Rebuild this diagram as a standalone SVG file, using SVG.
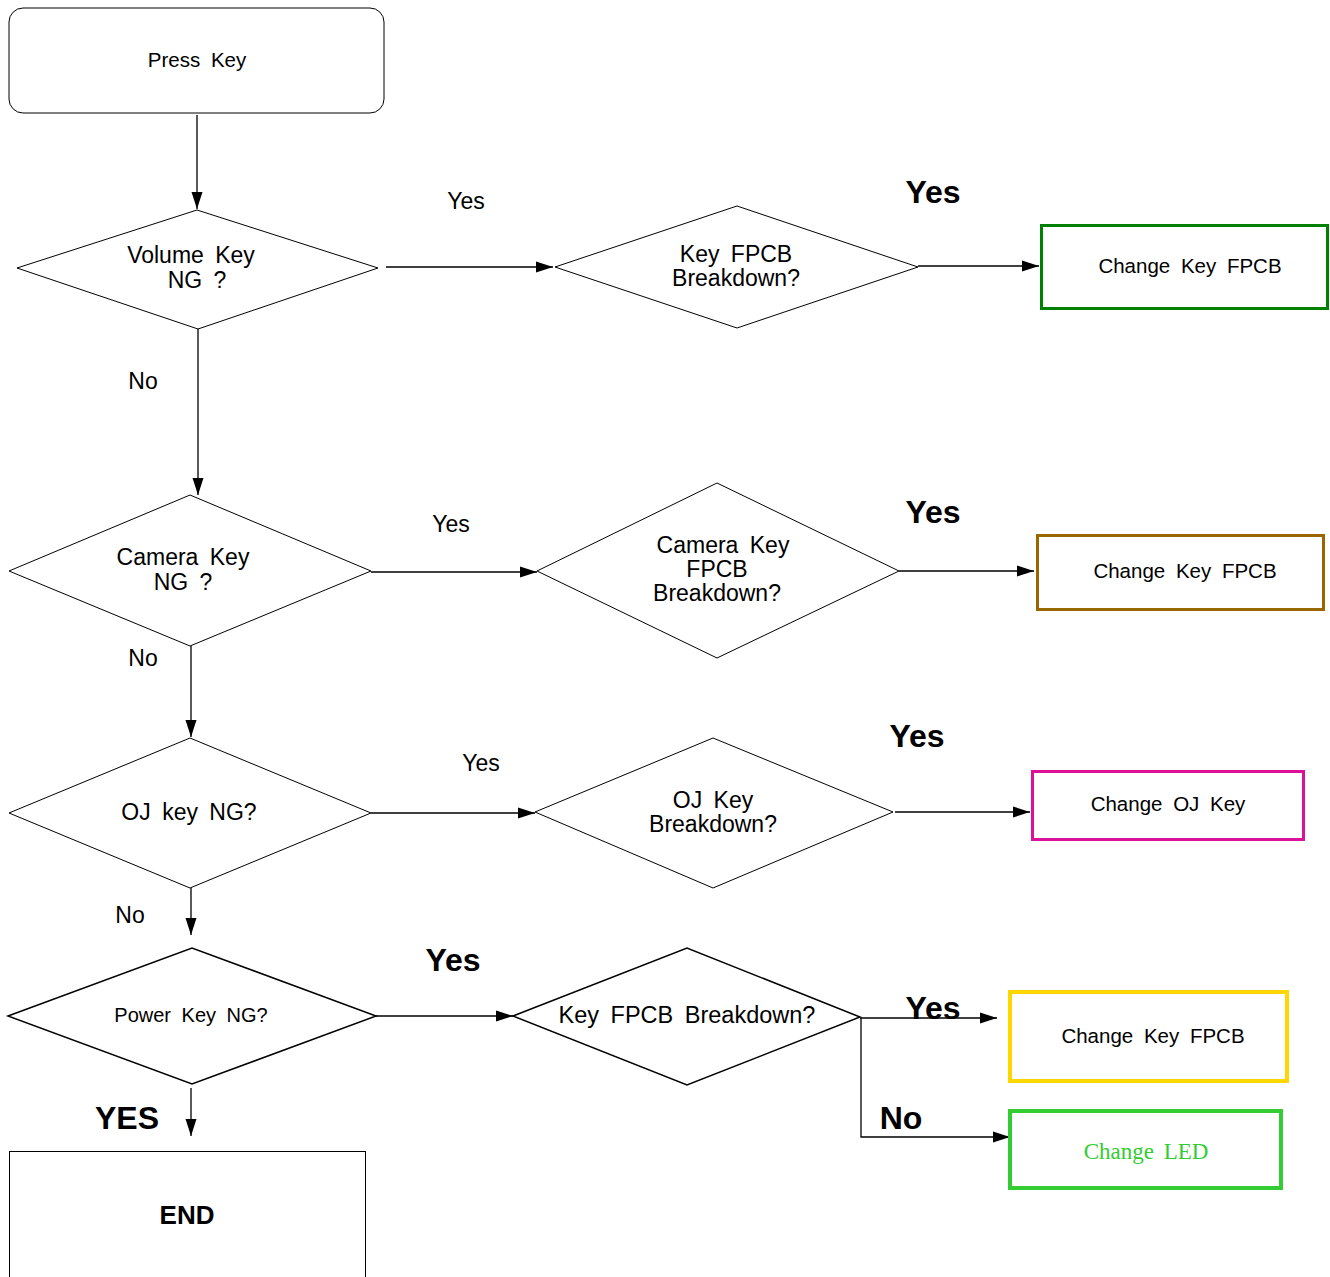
<svg xmlns="http://www.w3.org/2000/svg" width="1330" height="1277" viewBox="0 0 1330 1277">
<style>
text{font-family:"Liberation Sans",Arial,sans-serif;fill:#000;text-anchor:middle;word-spacing:5px}
.shape{fill:#fff;stroke:#000;stroke-width:1}
.conn{fill:none;stroke:#000;stroke-width:1.3}
.t22{font-size:23px}
.t19{font-size:20.5px}
.lbl{font-size:23px}
.big{font-size:32px;font-weight:bold}
</style>
<defs>
<marker id="ah" markerUnits="userSpaceOnUse" markerWidth="18" markerHeight="12" refX="17" refY="6" orient="auto">
<path d="M0,0.5 L17,6 L0,11.5 z" fill="#000"/>
</marker>
</defs>
<rect width="1330" height="1277" fill="#fff"/>
<g id="connectors">
<line class="conn" x1="197" y1="115" x2="197" y2="209" marker-end="url(#ah)"/>
<line class="conn" x1="386" y1="267" x2="553" y2="267" marker-end="url(#ah)"/>
<line class="conn" x1="918" y1="266" x2="1039" y2="266" marker-end="url(#ah)"/>
<line class="conn" x1="198" y1="329" x2="198" y2="495" marker-end="url(#ah)"/>
<line class="conn" x1="371" y1="572" x2="537" y2="572" marker-end="url(#ah)"/>
<line class="conn" x1="899" y1="571" x2="1034" y2="571" marker-end="url(#ah)"/>
<line class="conn" x1="191" y1="646" x2="191" y2="737" marker-end="url(#ah)"/>
<line class="conn" x1="371" y1="813" x2="535" y2="813" marker-end="url(#ah)"/>
<line class="conn" x1="895" y1="812" x2="1030" y2="812" marker-end="url(#ah)"/>
<line class="conn" x1="191" y1="888" x2="191" y2="935" marker-end="url(#ah)"/>
<line class="conn" x1="376" y1="1016" x2="513" y2="1016" marker-end="url(#ah)"/>
<line class="conn" x1="860" y1="1018" x2="997" y2="1018" marker-end="url(#ah)"/>
<polyline class="conn" points="861,1018 861,1137 1010,1137" marker-end="url(#ah)"/>
<line class="conn" x1="191" y1="1088" x2="191" y2="1136" marker-end="url(#ah)"/>
<text class="lbl" x="466" y="209">Yes</text>
<text class="big" x="933" y="203">Yes</text>
<text class="lbl" x="143" y="389">No</text>
<text class="lbl" x="451" y="532">Yes</text>
<text class="big" x="933" y="523">Yes</text>
<text class="lbl" x="143" y="666">No</text>
<text class="lbl" x="481" y="771">Yes</text>
<text class="big" x="917" y="747">Yes</text>
<text class="lbl" x="130" y="923">No</text>
<text class="big" x="453" y="971">Yes</text>
<text class="big" x="933" y="1019">Yes</text>
<text class="big" x="901" y="1129">No</text>
<text class="big" x="127" y="1129">YES</text>
</g>
<g id="press-key">
<rect class="shape" x="9" y="8" width="375" height="105" rx="14"/>
<text class="t19" x="197" y="67">Press Key</text>
</g>
<g id="volume-key">
<polygon class="shape" points="17,268 197,210 378,268 198,329"/>
<text class="t22" x="191" y="263">Volume Key</text>
<text class="t22" x="197" y="288">NG ?</text>
</g>
<g id="key-fpcb-1">
<polygon class="shape" points="555,267 737,206 918,267 737,328"/>
<text class="t22" x="736" y="262">Key FPCB</text>
<text class="t22" x="736" y="286">Breakdown?</text>
</g>
<g id="change-key-fpcb-1">
<rect x="1041.5" y="225.5" width="286" height="83" fill="#fff" stroke="#008000" stroke-width="3"/>
<text class="t19" x="1190" y="273">Change Key FPCB</text>
</g>
<g id="camera-key">
<polygon class="shape" points="9,571 190,495 371,571 190,646"/>
<text class="t22" x="183" y="565">Camera Key</text>
<text class="t22" x="183" y="590">NG ?</text>
</g>
<g id="camera-fpcb">
<polygon class="shape" points="537,571 717,483 899,571 717,658"/>
<text class="t22" x="723" y="553">Camera Key</text>
<text class="t22" x="717" y="577">FPCB</text>
<text class="t22" x="717" y="601">Breakdown?</text>
</g>
<g id="change-key-fpcb-2">
<rect x="1037.5" y="535.5" width="286" height="74" fill="#fff" stroke="#996600" stroke-width="3"/>
<text class="t19" x="1185" y="578">Change Key FPCB</text>
</g>
<g id="oj-key">
<polygon class="shape" points="9,813 190,738 371,813 190,888"/>
<text class="t22" x="189" y="820">OJ key NG?</text>
</g>
<g id="oj-breakdown">
<polygon class="shape" points="535,812 713,738 893,812 713,888"/>
<text class="t22" x="713" y="808">OJ Key</text>
<text class="t22" x="713" y="832">Breakdown?</text>
</g>
<g id="change-oj-key">
<rect x="1032.5" y="771.5" width="271" height="68" fill="#fff" stroke="#dd1199" stroke-width="3"/>
<text class="t19" x="1168" y="811">Change OJ Key</text>
</g>
<g id="power-key">
<polygon class="shape" points="8,1016 192,948 376,1016 192,1084" style="stroke-width:1.5"/>
<text x="191" y="1022" style="font-size:20px">Power Key NG?</text>
</g>
<g id="key-fpcb-2">
<polygon class="shape" points="513,1016 687,948 860,1017 687,1085" style="stroke-width:1.5"/>
<text x="687" y="1023" style="font-size:23.5px">Key FPCB Breakdown?</text>
</g>
<g id="change-key-fpcb-3">
<rect x="1010" y="992" width="277" height="89" fill="#fff" stroke="#ffd700" stroke-width="4"/>
<text class="t19" x="1153" y="1043">Change Key FPCB</text>
</g>
<g id="change-led">
<rect x="1010" y="1111" width="271" height="77" fill="#fff" stroke="#33cc33" stroke-width="4"/>
<text x="1146" y="1159" style="font-family:'Liberation Serif','Times New Roman',serif;font-size:23px;fill:#33cc33;word-spacing:4px">Change LED</text>
</g>
<g id="end">
<rect class="shape" x="9.5" y="1151.5" width="356" height="140"/>
<text x="187" y="1224" style="font-size:26px;font-weight:bold">END</text>
</g>
</svg>
